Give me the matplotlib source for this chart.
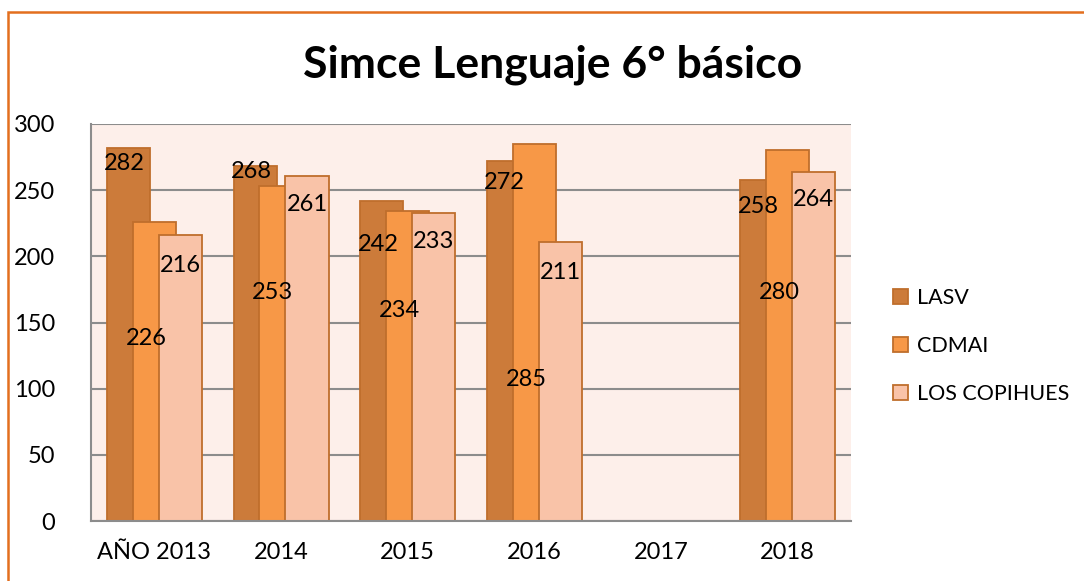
import numpy as np
import matplotlib.pyplot as plt
from matplotlib.patches import Rectangle

plt.rcParams['font.family'] = ['Lato', 'DejaVu Sans']

categories = ["AÑO 2013", "2014", "2015", "2016", "2017", "2018"]
series_names = ["LASV", "CDMAI", "LOS COPIHUES"]
lasv = [282, 268, 242, 272, np.nan, 258]
cdmai = [226, 253, 234, 285, np.nan, 280]
copihues = [216, 261, 233, 211, np.nan, 264]

# where the data labels sit (y in data units), as placed in the original
lasv_lbl_y = [270, 264, 209, 256, np.nan, 238]
cdmai_lbl_y = [138, 173, 159, 107, np.nan, 173]
copihues_lbl_y = [193, 239, 211, 188, np.nan, 243]

colors = ["#CC7B3A", "#F79847", "#F9C3A8"]
edge = "#BF6E2C"

fig = plt.figure(figsize=(10.84, 5.81), dpi=100)
ax = fig.add_axes([91 / 1084, 1 - 521 / 581, 760 / 1084, 397 / 581])
ax.set_facecolor("#FDEFEA")

x = np.arange(len(categories))
offs = [-0.205, 0.0, 0.205]
lbl_dx = [-0.03, -0.065, 0.0]
width = 0.34
vals = [lasv, cdmai, copihues]
lbls = [lasv_lbl_y, cdmai_lbl_y, copihues_lbl_y]
fs = 17

for i in range(3):
    ax.bar(x + offs[i], vals[i], width, color=colors[i], edgecolor=edge,
           linewidth=1.3, label=series_names[i], zorder=3 + i)
    for j in range(len(categories)):
        if not np.isnan(vals[i][j]):
            ax.text(x[j] + offs[i] + lbl_dx[i], lbls[i][j], "%d" % vals[i][j],
                    ha="center", va="center", fontsize=fs, color="black",
                    zorder=10)

ax.set_xlim(-0.5, 5.5)
ax.set_ylim(0, 300)
ax.set_yticks(range(0, 301, 50))
ax.set_xticks(x)
ax.set_xticklabels(categories)
ax.tick_params(axis="both", length=0, labelsize=fs)
ax.tick_params(axis="y", pad=26)
ax.tick_params(axis="x", pad=15)
ax.grid(axis="y", color="#8C8C8C", linewidth=1.5, zorder=1)
ax.set_axisbelow(True)
for s in ["top", "right"]:
    ax.spines[s].set_visible(False)
for s in ["left", "bottom"]:
    ax.spines[s].set_color("#8C8C8C")
    ax.spines[s].set_linewidth(1.5)
    ax.spines[s].set_zorder(20)

fig.text(553 / 1084, 1 - 65 / 581, "Simce Lenguaje 6° básico", ha="center",
         va="center", fontsize=32, fontweight="bold")

fig.legend(loc="upper left", bbox_to_anchor=(876 / 1084, 1 - 271 / 581),
           frameon=False, fontsize=15.5, handlelength=0.7, handleheight=0.7,
           handletextpad=0.4, labelspacing=1.3, borderpad=0.3)

fig.patches.append(Rectangle((8 / 1084, -0.1), 1.2, 1 - 12 / 581 + 0.1,
                             transform=fig.transFigure, fill=False,
                             edgecolor="#E36F1E", linewidth=1.8))

fig.savefig("out.png", dpi=100)
